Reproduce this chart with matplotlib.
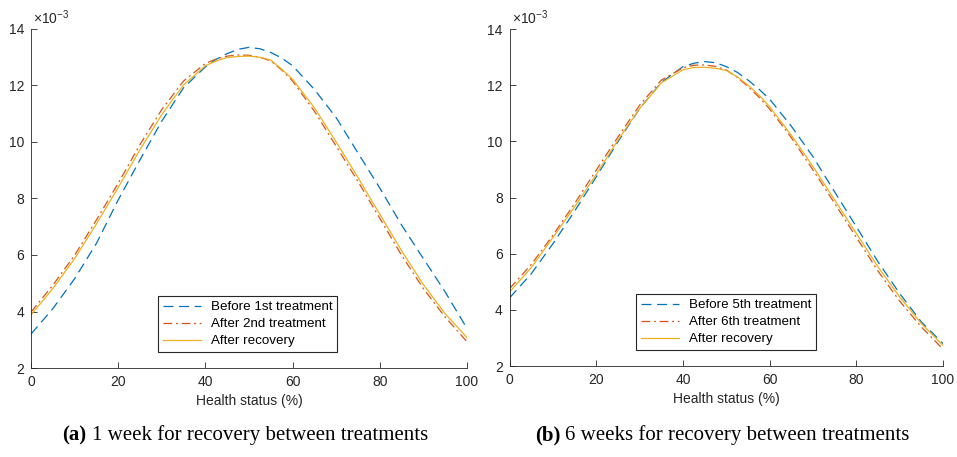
import matplotlib
matplotlib.use("Agg")
import matplotlib.pyplot as plt

plt.rcParams['font.family'] = ['Liberation Sans', 'DejaVu Sans']
plt.rcParams['mathtext.fontset'] = 'custom'
plt.rcParams['mathtext.rm'] = 'Liberation Sans'

# health status (%), values in units of 1e-3
x = [0, 5, 10, 15, 20, 25, 30, 35, 40, 42.5, 45, 47.5, 50, 52.5, 55, 57.5, 60,
     65, 70, 75, 80, 85, 90, 95, 100]

# (a) 1 week for recovery
before_1st = [3.20, 4.10, 5.16, 6.41, 7.95, 9.37, 10.74, 11.92, 12.66, 12.93, 13.13, 13.28, 13.35,
              13.30, 13.17, 12.97, 12.70, 11.86, 10.86, 9.61, 8.37, 7.06, 5.87, 4.69, 3.40]
after_2nd = [3.98, 4.93, 5.99, 7.24, 8.54, 9.91, 11.15, 12.16, 12.78, 12.94, 13.04, 13.08, 13.07,
             13.00, 12.87, 12.55, 12.16, 11.09, 9.85, 8.60, 7.30, 5.99, 4.81, 3.80, 2.93]
recovery_a = [3.88, 4.81, 5.87, 7.10, 8.39, 9.73, 10.97, 12.02, 12.70, 12.87, 12.99, 13.03, 13.04,
              13.00, 12.90, 12.58, 12.22, 11.21, 10.00, 8.74, 7.44, 6.15, 4.95, 3.92, 3.08]

# (b) 6 weeks for recovery
before_5th = [4.43, 5.29, 6.36, 7.52, 8.74, 9.99, 11.17, 12.10, 12.66, 12.78, 12.84, 12.80, 12.66,
              12.46, 12.18, 11.86, 11.50, 10.54, 9.45, 8.20, 6.96, 5.71, 4.58, 3.57, 2.80]
after_6th = [4.76, 5.62, 6.66, 7.79, 8.98, 10.16, 11.29, 12.18, 12.62, 12.71, 12.72, 12.67, 12.54,
             12.28, 11.95, 11.58, 11.15, 10.13, 8.98, 7.79, 6.58, 5.38, 4.31, 3.39, 2.60]
recovery_b = [4.64, 5.51, 6.58, 7.67, 8.83, 10.05, 11.17, 12.08, 12.55, 12.63, 12.64, 12.60, 12.52,
              12.30, 12.00, 11.65, 11.23, 10.22, 9.10, 7.91, 6.72, 5.53, 4.46, 3.51, 2.74]

panels = [
    (before_1st, after_2nd, recovery_a, ['Before 1st treatment', 'After 2nd treatment', 'After recovery'],
     '(a)', '1 week for recovery between treatments'),
    (before_5th, after_6th, recovery_b, ['Before 5th treatment', 'After 6th treatment', 'After recovery'],
     '(b)', '6 weeks for recovery between treatments'),
]

W, H = 957, 457
fig = plt.figure(figsize=(W / 100, H / 100), dpi=100)
boxes = [(31, 467, 29, 368), (509.7, 943, 29, 366)]
caption_x = [(62, 92), (535, 565)]
tc = '#262626'

for i, (b, a, r, labels, tag, cap) in enumerate(panels):
    x0, x1, y0, y1 = boxes[i]
    ax = fig.add_axes([x0 / W, (H - y1) / H, (x1 - x0) / W, (y1 - y0) / H])
    ax.plot(x, b, color='#0072BD', ls=(0, (8, 4.5)), lw=0.9, label=labels[0])
    ax.plot(x, a, color='#D95319', ls=(0, (7, 3, 1.5, 3)), lw=0.9, label=labels[1])
    ax.plot(x, r, color='#EDB120', ls='-', lw=0.9, label=labels[2])
    ax.set_xlim(0, 100)
    ax.set_ylim(2, 14)
    ax.set_xticks(range(0, 101, 20))
    ax.set_yticks(range(2, 15, 2))
    for s in ['top', 'right']:
        ax.spines[s].set_visible(False)
    for s in ['left', 'bottom']:
        ax.spines[s].set_color(tc)
        ax.spines[s].set_linewidth(0.6)
    ax.tick_params(direction='in', length=4, width=0.6, colors=tc, labelsize=10, pad=5)
    ax.set_xlabel('Health status (%)', fontsize=10, color=tc, labelpad=4)
    ax.text(0.005, 1.005, r'$\times10^{-3}$', transform=ax.transAxes, fontsize=10,
            color=tc, va='bottom', ha='left')
    leg = ax.legend(loc='lower left', bbox_to_anchor=(0.276, 0.028), fontsize=9.6,
                    handlelength=2.9, handletextpad=0.7, labelspacing=0.35,
                    borderpad=0.35, fancybox=False, framealpha=1)
    leg.get_frame().set_edgecolor(tc)
    leg.get_frame().set_linewidth(0.8)

    fig.text(caption_x[i][0] / W, 1 - 435 / H, tag, fontsize=15, fontweight='bold',
             family='Liberation Serif', va='center', ha='left')
    fig.text(caption_x[i][1] / W, 1 - 435 / H, cap, fontsize=15,
             family='Liberation Serif', va='center', ha='left')

fig.savefig('out.png', dpi=100)
